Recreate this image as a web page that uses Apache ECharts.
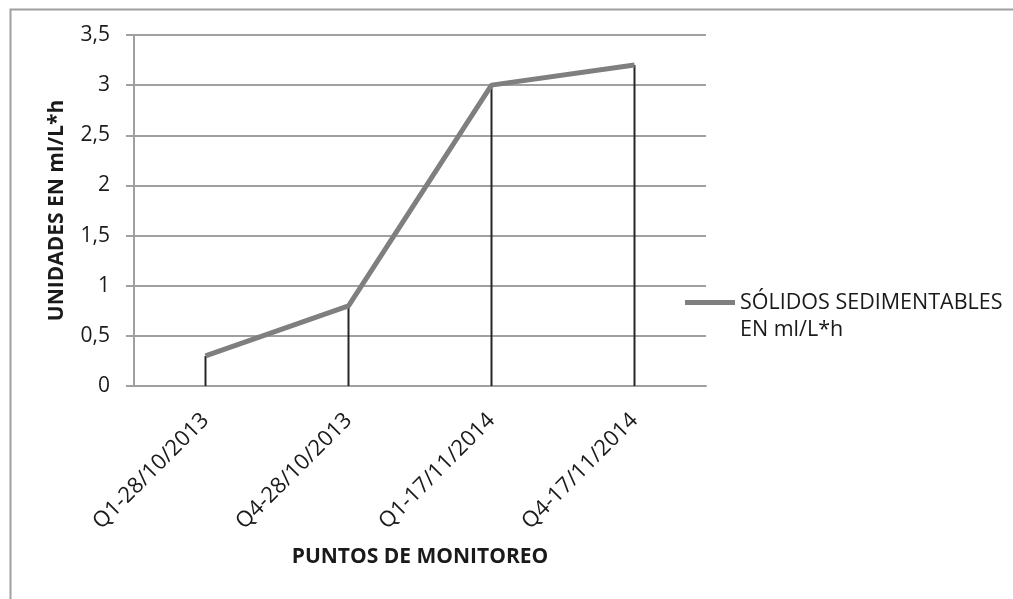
<!DOCTYPE html>
<html>
<head>
<meta charset="utf-8">
<script src="https://cdn.jsdelivr.net/npm/echarts@6/dist/echarts.min.js"></script>
<style>
  html, body { margin: 0; padding: 0; background: #fff; }
  #chart { width: 1013px; height: 599px; }
</style>
</head>
<body>
<div id="chart"></div>
<script>
// puntos de monitoreo y valores (ml/L*h)
var categories = ['Q1-28/10/2013', 'Q4-28/10/2013', 'Q1-17/11/2014', 'Q4-17/11/2014']
var solidos = [0.3, 0.8, 3.0, 3.2]
var seriesName = 'SÓLIDOS SEDIMENTABLES EN ml/L*h'

var chart = echarts.init(document.getElementById('chart'))
var font = '"Open Sans", "Noto Sans", sans-serif'
var gridColor = '#a0a0a0'

chart.setOption({
  animation: false,
  textStyle: { fontFamily: font, color: '#1a1a1a' },
  graphic: [{
    type: 'rect',
    left: 8,
    top: 7,
    shape: { width: 1100, height: 700 },
    style: { fill: 'none', stroke: gridColor, lineWidth: 2 }
  }],
  grid: { left: 134, right: 307, top: 35, bottom: 213 },
  legend: {
    data: [seriesName],
    left: 685,
    top: 262,
    padding: 0,
    itemWidth: 50,
    itemHeight: 5,
    itemGap: 0,
    icon: 'rect',
    // linea vacia arriba para que el icono quede a la altura de la primera linea
    formatter: function () { return '\nSÓLIDOS SEDIMENTABLES\nEN ml/L*h' },
    textStyle: { fontSize: 21.5, lineHeight: 27, color: '#1a1a1a' },
    itemStyle: { color: '#7f7f7f' }
  },
  xAxis: {
    type: 'category',
    data: categories,
    boundaryGap: true,
    name: 'PUNTOS DE MONITOREO',
    nameLocation: 'middle',
    nameGap: 161,
    nameTextStyle: { fontSize: 21, fontWeight: 'bold', color: '#1a1a1a' },
    axisLine: { lineStyle: { color: gridColor, width: 2 } },
    axisTick: { show: false },
    axisLabel: { rotate: 45, fontSize: 22, margin: 31, color: '#1a1a1a' },
    splitLine: { show: false }
  },
  yAxis: {
    type: 'value',
    min: 0,
    max: 3.5,
    interval: 0.5,
    name: 'UNIDADES EN ml/L*h',
    nameLocation: 'middle',
    nameGap: 66,
    nameTextStyle: { fontSize: 21, fontWeight: 'bold', color: '#1a1a1a' },
    axisLine: { show: true, lineStyle: { color: gridColor, width: 2 } },
    axisTick: { show: true, length: 8, lineStyle: { color: gridColor, width: 2 } },
    axisLabel: {
      fontSize: 21,
      margin: 24,
      color: '#1a1a1a',
      formatter: function (v) { return String(v).replace('.', ',') }
    },
    splitLine: { lineStyle: { color: gridColor, width: 2 } }
  },
  series: [{
    name: 'drop',
    type: 'bar',
    data: solidos,
    barWidth: 2,
    barGap: '-100%',
    itemStyle: { color: '#262626' },
    silent: true,
    z: 2
  }, {
    name: seriesName,
    type: 'line',
    data: solidos,
    symbol: 'none',
    lineStyle: { color: '#7f7f7f', width: 5 },
    itemStyle: { color: '#7f7f7f' },
    z: 3
  }]
})
</script>
</body>
</html>
